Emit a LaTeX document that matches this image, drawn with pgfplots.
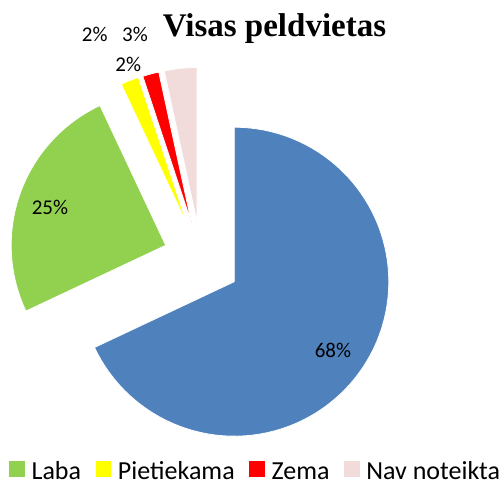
\documentclass[border=0pt]{standalone}
\usepackage{fontspec}
\setmainfont{Carlito}
\newfontfamily\titlefont{Liberation Serif}
\usepackage{pgfplots}
\pgfplotsset{compat=1.18}
\definecolor{cBlue}{HTML}{4F81BD}
\definecolor{cGreen}{HTML}{92D050}
\definecolor{cYellow}{HTML}{FFFF00}
\definecolor{cRed}{HTML}{FF0000}
\definecolor{cPink}{HTML}{F2DCDB}
% values (percent)
\def\vLabi{68.0}
\def\vLaba{25.0}
\def\vPiet{1.9}
\def\vZema{1.7}
\def\vNav{3.4}
\def\R{154.5}
\pgfmathsetmacro\aA{90}
\pgfmathsetmacro\aB{\aA-3.6*\vLabi}
\pgfmathsetmacro\aC{\aB-3.6*\vLaba}
\pgfmathsetmacro\aD{\aC-3.6*\vPiet}
\pgfmathsetmacro\aE{\aD-3.6*\vZema}
\pgfmathsetmacro\aF{\aE-3.6*\vNav}
\newcommand{\slice}[6]{%
  \addplot[fill=#5, draw=white, line width=0.8pt, domain=#2:#1, samples=90, variable=\t, #6]
    ({#3+\R*cos(\t)},{#4+\R*sin(\t)}) -- (axis cs:#3,#4) -- cycle;}
\begin{document}
\begin{tikzpicture}
\begin{axis}[
  width=504pt, height=484pt, scale only axis,
  xmin=0, xmax=504, ymin=-484, ymax=0,
  hide axis, clip=false,
  legend columns=4,
  legend style={at={(0.01786,0.0062)}, anchor=south west, draw=none, fill=none,
    inner sep=0pt, nodes={inner sep=0pt, font=\fontsize{26}{30}\selectfont},
    /tikz/every odd column/.append style={column sep=6.7pt},
    /tikz/every even column/.append style={column sep=14.5pt, text height=17pt, text depth=0pt}},
  legend image code/.code={\fill[#1, draw=none] (0pt,-5pt) rectangle (15.7pt,10.7pt);},
]
\path (axis cs:0,-484) rectangle (axis cs:504,0);
\slice{\aA}{\aB}{234.3}{-281.7}{cBlue}{forget plot}
\slice{\aB}{\aC}{165.7}{-245.3}{cGreen}{}
\addlegendentry{Laba}
\slice{\aC}{\aD}{187.0}{-224.0}{cYellow}{}
\addlegendentry{Pietiekama}
\slice{\aD}{\aE}{191.5}{-223.0}{cRed}{}
\addlegendentry{Zema}
\slice{\aE}{\aF}{197.0}{-222.0}{cPink}{}
\addlegendentry{Nav noteikta}
\begin{scope}[every node/.style={font=\fontsize{21}{25}\selectfont, anchor=base, inner sep=0pt}]
\node at (axis cs:333,-357.5) {68\%};
\node at (axis cs:50,-215) {25\%};
\node at (axis cs:128.3,-72) {2\%};
\node at (axis cs:94.7,-41.7) {2\%};
\node at (axis cs:135,-41.7) {3\%};
\end{scope}
\node[anchor=base, inner sep=0pt, font=\titlefont\bfseries\fontsize{33}{40}\selectfont] at (axis cs:274.5,-37) {Visas peldvietas};
\end{axis}
\end{tikzpicture}
\end{document}
